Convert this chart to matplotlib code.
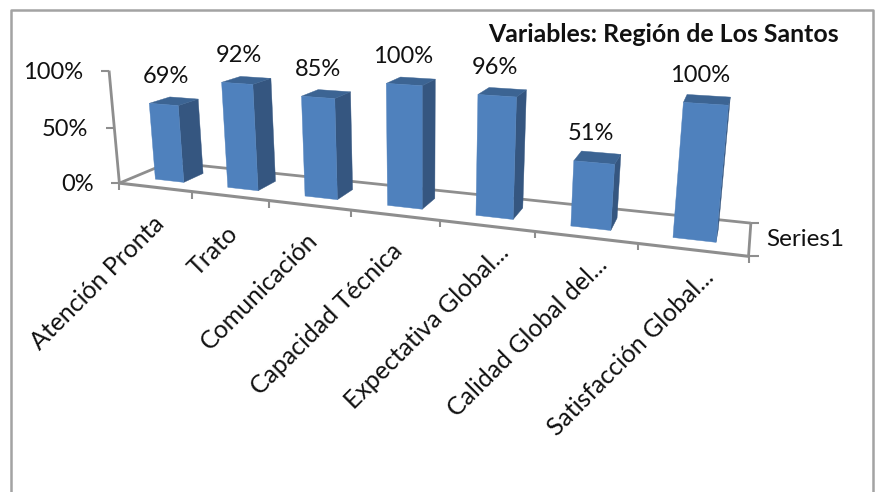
import numpy as np
import matplotlib
matplotlib.use('Agg')
import matplotlib.pyplot as plt
from matplotlib.patches import Polygon

plt.rcParams['font.family'] = ['Lato', 'DejaVu Sans']

categories = ['Atención Pronta', 'Trato', 'Comunicación', 'Capacidad Técnica',
              'Expectativa Global...', 'Calidad Global del...', 'Satisfacción Global...']
values = [69, 92, 85, 100, 96, 51, 100]
value_ticks = [0, 50, 100]
series_name = 'Series1'
title = 'Variables: Región de Los Santos'

# camera for the 3D box: x = category slot, y = depth, z = value / 100
CAMERA = np.array([
    [66.2898, 52.3606, -13.9059, 119.384],
    [2.37771, -6.09226, -114.887, 183.133],
    [-0.0315112, 0.0677442, -0.032918, 1.0],
])
GAP = 0.30
DEPTH_FRONT = 0.35
DEPTH_BACK = 0.85
FLOOR_DEPTH = 1.22

FRONT = '#4F81BD'
SIDE = '#355680'
TOP = '#3C6493'
AXIS = '#8E8E8E'
BORDER = '#A3A3A3'
TEXT = '#111111'


def project(x, y, z):
    u, v, w = CAMERA @ np.array([x, y, z, 1.0])
    return u / w, v / w


def face(ax, corners, color):
    # bars sit above the floor lines
    ax.add_patch(Polygon([project(*c) for c in corners], closed=True, zorder=3,
                         facecolor=color, edgecolor=color, linewidth=0.3))


def seg(ax, a, b, lw=2.0):
    ax.plot([a[0], b[0]], [a[1], b[1]], color=AXIS, lw=lw, solid_capstyle='butt', zorder=2)


fig = plt.figure(figsize=(8.79, 4.92), dpi=100)
ax = fig.add_axes([0, 0, 1, 1])
ax.set_xlim(0, 879)
ax.set_ylim(492, 0)
ax.axis('off')

# chart border, no bottom edge
ax.plot([11.5, 11.5, 873, 873], [492, 9.5, 9.5, 492], color=BORDER, lw=1.8)

n = len(categories)
origin = project(0, 0, 0)
front_end = project(n, 0, 0)
back_start = project(0, FLOOR_DEPTH, 0)
back_end = project(n, FLOOR_DEPTH, 0)

# floor and value axis
seg(ax, origin, back_start)
seg(ax, back_start, back_end)
seg(ax, back_end, front_end)
seg(ax, origin, front_end, lw=2.2)
seg(ax, origin, project(0, 0, 1))

for t in value_ticks:
    px, py = project(0, 0, t / 100)
    seg(ax, (px - 8, py), (px, py), lw=1.5)
    ax.text(px - 26, py + 1.5, f'{t}%', ha='right', va='center', fontsize=17, color=TEXT)

for i in range(n + 1):
    px, py = project(i, 0, 0)
    seg(ax, (px, py), (px, py + 7), lw=1.5)

seg(ax, back_end, (back_end[0] + 8, back_end[1]), lw=1.5)
seg(ax, front_end, (front_end[0] + 10, front_end[1]), lw=1.5)
ax.text(766, 239, series_name, ha='left', va='center', fontsize=17.5, color=TEXT)

# end of each rotated category label, relative to the slot centre on the floor edge
label_dx = [5, 4, 4, 4, 18, 18, 18]
label_dy = [33, 34, 31, 32, 23, 24, 24]

for i, (name, val) in enumerate(zip(categories, values)):
    z = val / 100
    a, c = i + GAP, i + 1 - GAP
    f, b = DEPTH_FRONT, DEPTH_BACK
    face(ax, [(c, f, 0), (c, b, 0), (c, b, z), (c, f, z)], SIDE)
    face(ax, [(a, f, z), (c, f, z), (c, b, z), (a, b, z)], TOP)
    face(ax, [(a, f, 0), (c, f, 0), (c, f, z), (a, f, z)], FRONT)

    tx, ty = project(a, f, z)
    ax.text(tx + 17, ty - 27, f'{val}%', ha='center', va='center', fontsize=17, color=TEXT)

    px, py = project(i + 0.5, 0, 0)
    ax.text(px + label_dx[i], py + label_dy[i], name, rotation=45, rotation_mode='anchor',
            ha='right', va='center', fontsize=17.9, color=TEXT)

ax.text(663, 34, title, ha='center', va='center', fontsize=17.9, fontweight='bold', color=TEXT)

fig.savefig('out.png', dpi=100)
